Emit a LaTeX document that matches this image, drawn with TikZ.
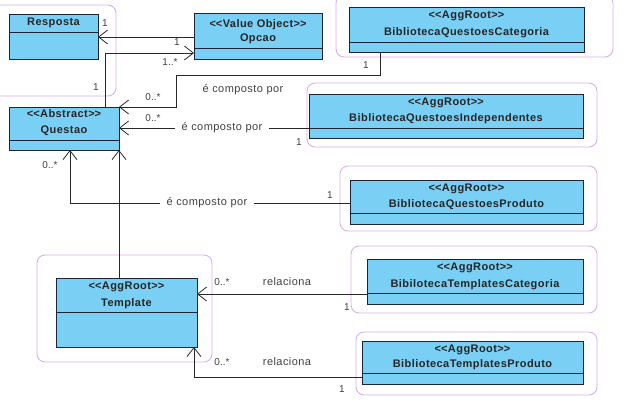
\documentclass[tikz,border=0pt]{standalone}
\usepackage{fontspec}
\setmainfont{Liberation Sans}
\usetikzlibrary{arrows.meta}
\definecolor{boxfill}{RGB}{122,207,245}
\definecolor{boxline}{RGB}{30,35,55}
\definecolor{grp}{RGB}{214,176,226}
\definecolor{conn}{RGB}{40,40,40}
\newcommand{\stereo}[1]{<\kern0pt<#1>\kern0pt>}
\tikzset{
  grpframe/.style={draw=grp, line width=0.9pt, rounded corners=8pt},
  cls/.style={draw=boxline, line width=0.9pt, fill=boxfill},
  sep/.style={draw=boxline, line width=0.9pt},
  ttl/.style={font=\bfseries\fontsize{11}{12}\selectfont\addfontfeature{LetterSpace=4}, inner sep=0pt, text=black!85},
  assoc/.style={draw=conn, line width=0.8pt},
  oarrow/.style={-{Straight Barb[length=9pt,width=14pt,line width=0.8pt]}},
  mult/.style={font=\fontsize{10}{11}\selectfont, inner sep=0pt, text=black!75},
  lbl/.style={font=\fontsize{11}{12}\selectfont\addfontfeature{LetterSpace=4}, inner xsep=7pt, inner ysep=2pt, fill=white, text=black!75}
}
\begin{document}
\begin{tikzpicture}[x=1pt,y=-1pt]
\useasboundingbox (0,0) rectangle (637,402);
% group frames
\draw[grpframe] (-10,5) rectangle (116,96);
\draw[grpframe] (336,-5) rectangle (613,57);
\draw[grpframe] (307,83) rectangle (597,147);
\draw[grpframe] (340,166) rectangle (597,231);
\draw[grpframe] (351,246) rectangle (597,313);
\draw[grpframe] (356,332) rectangle (597,395);
\draw[grpframe] (37,255) rectangle (212,362);
% Resposta
\path[cls] (9,14) rectangle (98,59);
\draw[sep] (9,32) -- (98,32);
\node[ttl] (resposta) at (53.5,23) {Resposta};
\coordinate (respR) at (98,37);
% Opcao
\path[cls] (194,13) rectangle (322,59);
\draw[sep] (194,48) -- (322,48);
\node[ttl] (opcaoS) at (258,25) {\stereo{Value Object}};
\node[ttl] (opcao) at (258,39) {Opcao};
\coordinate (opcaoL1) at (194,37);
\coordinate (opcaoL2) at (194,53);
% Questao
\path[cls] (9,107) rectangle (119,150);
\draw[sep] (9,140) -- (119,140);
\node[ttl] (questaoS) at (64,114) {\stereo{Abstract}};
\node[ttl] (questao) at (64,131) {Questao};
% BQ Categoria
\path[cls] (349,7) rectangle (584,52);
\draw[sep] (349,42) -- (584,42);
\node[ttl] (bqcS) at (466.5,16) {\stereo{AggRoot}};
\node[ttl] (bqc) at (466.5,33) {BibliotecaQuestoesCategoria};
% BQ Independentes
\path[cls] (309,94) rectangle (583,138);
\draw[sep] (309,128) -- (583,128);
\node[ttl] (bqiS) at (446,103) {\stereo{AggRoot}};
\node[ttl] (bqi) at (446,118.5) {BibliotecaQuestoesIndependentes};
% BQ Produto
\path[cls] (350,180) rectangle (583,224);
\draw[sep] (350,213) -- (583,213);
\node[ttl] (bqpS) at (466.5,188.5) {\stereo{AggRoot}};
\node[ttl] (bqp) at (466.5,205) {BibliotecaQuestoesProduto};
% BT Categoria
\path[cls] (367,259) rectangle (583,304);
\draw[sep] (367,293) -- (583,293);
\node[ttl] (btcS) at (475,267.5) {\stereo{AggRoot}};
\node[ttl] (btc) at (475,285) {BibilotecaTemplatesCategoria};
% BT Produto
\path[cls] (362,341) rectangle (583,384);
\draw[sep] (362,373) -- (583,373);
\node[ttl] (btpS) at (472.5,349.5) {\stereo{AggRoot}};
\node[ttl] (btp) at (472.5,365) {BibliotecaTemplatesProduto};
% Template
\path[cls] (56,278) rectangle (197,347);
\draw[sep] (56,312) -- (197,312);
\node[ttl] (templS) at (126.5,287) {\stereo{AggRoot}};
\node[ttl] (templ) at (126.5,304) {Template};

% connectors
\draw[assoc,oarrow] (opcaoL1) -- (respR);
\node[mult] (m1) at (105,23) {1};
\node[mult] (m2) at (177,42) {1};

\coordinate (qTop) at (105,107);
\draw[assoc,oarrow] (qTop) -- (105,53) -- (opcaoL2);
\node[mult] (m3) at (96,87) {1};
\node[mult] (m4) at (170,62) {1..*};

\coordinate (bqcB) at (380,52);
\coordinate (qTR) at (119,107);
\draw[assoc,oarrow] (bqcB) -- (380,75) -- (176,75) -- (176,107) -- (qTR);
\node[mult] (m5) at (366,65) {1};
\node[mult] (m6) at (153,97) {0..*};
\node[lbl, fill=none] (l1) at (243,90) {é composto por};

\coordinate (bqiL) at (309,128);
\coordinate (qR) at (119,128);
\draw[assoc,oarrow] (bqiL) -- (qR);
\node[mult] (m7) at (299,142) {1};
\node[mult] (m8) at (153,118) {0..*};
\node[lbl] (l2) at (222,128) {é composto por};

\coordinate (bqpL) at (350,203);
\coordinate (qB) at (70,150);
\draw[assoc,oarrow] (bqpL) -- (70,203) -- (qB);
\node[mult] (m9) at (330,195) {1};
\node[mult] (m10) at (50,165) {0..*};
\node[lbl] (l3) at (207,203) {é composto por};

\coordinate (tTop) at (119,278);
\coordinate (qBR) at (119,150);
\draw[assoc,oarrow] (tTop) -- (qBR);

\coordinate (btcL) at (367,294);
\coordinate (tR) at (197,294);
\draw[assoc,oarrow] (btcL) -- (tR);
\node[mult] (m11) at (347,307) {1};
\node[mult] (m12) at (222,282) {0..*};
\node[lbl, fill=none] (l4) at (287,282) {relaciona};

\coordinate (btpL) at (362,377);
\coordinate (tB) at (194,347);
\draw[assoc,oarrow] (btpL) -- (194,377) -- (tB);
\node[mult] (m13) at (342,389) {1};
\node[mult] (m14) at (222,362) {0..*};
\node[lbl, fill=none] (l5) at (287,362) {relaciona};
\end{tikzpicture}
\end{document}
